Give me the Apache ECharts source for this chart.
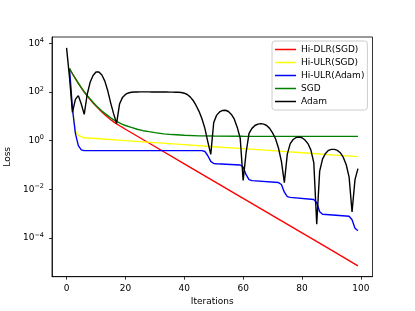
<!DOCTYPE html>
<html>
<head>
<meta charset="utf-8">
<script src="https://cdn.jsdelivr.net/npm/echarts@6/dist/echarts.min.js"></script>
<style>
  html, body { margin: 0; padding: 0; background: #fff; }
  #chart { width: 415px; height: 311px; }
</style>
</head>
<body>
<div id="chart"></div>
<script>
// loss values, [iteration, loss]
const hiDlrSgd = [
  [1, 912], [2, 562], [3, 355], [4, 224], [5, 148], [6, 100], [7, 69], [8, 49], [9, 35.5], [10, 26.3],
  [11, 20], [12, 15.1], [13, 11.7], [14, 9.1], [15, 7.2], [16, 5.9], [17, 4.9], [18, 4.1], [19, 3.5], [20, 2.95],
  [30, 0.575], [40, 0.112], [50, 0.0219], [60, 0.00427], [70, 8.3e-4], [80, 1.62e-4], [90, 3.16e-5], [99, 7.2e-6]
];
const hiUlrSgd = [
  [1, 912], [2, 22], [3, 2.4], [4, 1.66], [5, 1.45], [6, 1.32], [10, 1.23], [20, 1.0], [30, 0.83],
  [40, 0.69], [50, 0.56], [60, 0.47], [70, 0.39], [80, 0.32], [90, 0.26], [99, 0.22]
];
const hiUlrAdam = [
  [1, 912], [2, 20], [3, 2.0], [4, 0.63], [5, 0.42], [6, 0.39], [20, 0.39], [40, 0.39], [46, 0.39],
  [47, 0.36], [48, 0.24], [49, 0.141], [50, 0.115], [51, 0.112], [59, 0.1], [60, 0.083], [61, 0.04],
  [62, 0.025], [63, 0.0229], [72, 0.019], [73, 0.0158], [74, 0.0076], [75, 0.005], [76, 0.00468],
  [84, 0.0038], [85, 0.0028], [86, 0.0012], [87, 9.5e-4], [96, 7.8e-4], [97, 5.6e-4], [98, 2.5e-4], [99, 2.0e-4]
];
const sgd = [
  [1, 912], [2, 562], [3, 355], [4, 229], [5, 151], [6, 102], [7, 72], [8, 52], [9, 38], [10, 28],
  [11, 21.4], [12, 16.6], [13, 13.2], [14, 10.7], [15, 8.7], [16, 7.2], [17, 6.2], [18, 5.4], [19, 4.7], [20, 4.2],
  [22, 3.5], [24, 2.95], [26, 2.57], [28, 2.34], [30, 2.14], [33, 1.9], [36, 1.78], [40, 1.66], [45, 1.58],
  [50, 1.55], [60, 1.51], [70, 1.5], [80, 1.5], [90, 1.5], [99, 1.5]
];
// Adam, one value per iteration 0..99
const adam = [
  6500, 400, 14.5, 50, 71, 32, 12, 79, 250, 480,
  660, 660, 500, 280, 112, 35, 12.6, 5.1, 32, 60,
  79, 91, 98, 100, 100, 101, 101, 101, 101, 100,
  100, 100, 100, 100, 100, 99, 99, 98, 97, 95,
  89, 79, 63, 45, 28, 16, 7.9, 3.2, 0.89, 0.275,
  5.6, 11.2, 15.1, 17.4, 17.8, 15.8, 12, 7.6, 3.5, 1.26,
  0.0234, 0.32, 2.0, 3.2, 4.2, 4.8, 5.0, 4.8, 4.2, 3.2,
  2.1, 1.2, 0.5, 0.14, 0.019, 0.28, 0.76, 1.12, 1.35, 1.41,
  1.32, 1.07, 0.76, 0.42, 0.126, 3.7e-4, 0.056, 0.178, 0.30, 0.40,
  0.44, 0.44, 0.40, 0.32, 0.21, 0.105, 0.032, 0.00117, 0.025, 0.071
];

const xTicks = [0, 20, 40, 60, 80, 100];
const yTicks = [1e-4, 1e-2, 1, 1e2, 1e4];

const font = 'DejaVu Sans';
const chart = echarts.init(document.getElementById('chart'), null, { renderer: 'canvas' });

function lineSeries(name, color, data) {
  return {
    name: name,
    type: 'line',
    data: data,
    color: color,
    symbol: 'none',
    showSymbol: false,
    lineStyle: { width: 1.4, color: color },
    emphasis: { disabled: true }
  };
}

function supLabel(v) {
  const e = Math.round(Math.log10(v));
  const s = e < 0 ? '\u2212' + (-e) : String(e);
  return '{b|10}{s|' + s + '}';
}

const option = {
  animation: false,
  grid: {
    left: 52, right: 42.5, top: 37, bottom: 34.3,
    show: true, borderColor: '#000', borderWidth: 0.8,
    containLabel: false, outerBoundsMode: 'none'
  },
  legend: {
    orient: 'vertical',
    left: 272, top: 41,
    icon: 'rect',
    itemWidth: 21, itemHeight: 1.5,
    itemGap: 0,
    selectedMode: false,
    padding: [2, 3, 2, 3],
    backgroundColor: 'rgba(255,255,255,0.8)',
    borderColor: '#ccc', borderWidth: 1, borderRadius: 3,
    textStyle: { fontFamily: font, fontSize: 9, color: '#000', lineHeight: 13 },
    data: ['Hi-DLR(SGD)', 'Hi-ULR(SGD)', 'Hi-ULR(Adam)', 'SGD', 'Adam']
  },
  xAxis: {
    type: 'value',
    min: -4.95, max: 103.95,
    name: 'Iterations', nameLocation: 'middle', nameGap: 19,
    nameTextStyle: { fontFamily: font, fontSize: 9, color: '#000' },
    axisLine: { onZero: false, lineStyle: { color: '#000', width: 0.8 } },
    axisTick: { length: 3, lineStyle: { color: '#000', width: 0.8 }, customValues: xTicks },
    axisLabel: { fontFamily: font, fontSize: 9, color: '#000', margin: 7, customValues: xTicks },
    splitLine: { show: false }
  },
  yAxis: {
    type: 'log', logBase: 10,
    min: 2.57e-6, max: 1.82e4,
    name: 'Loss', nameLocation: 'middle', nameGap: 33,
    nameTextStyle: { fontFamily: font, fontSize: 9, color: '#000' },
    axisLine: { show: true, onZero: false, lineStyle: { color: '#000', width: 0.8 } },
    axisTick: { show: true, length: 3, lineStyle: { color: '#000', width: 0.8 }, customValues: yTicks },
    axisLabel: {
      margin: 8, customValues: yTicks,
      formatter: supLabel,
      rich: {
        b: { fontFamily: font, fontSize: 9, color: '#000' },
        s: { fontFamily: font, fontSize: 6.5, color: '#000', padding: [0, 0, 6, 0] }
      }
    },
    splitLine: { show: false },
    minorTick: { show: false }
  },
  series: [
    lineSeries('Hi-DLR(SGD)', '#ff0000', hiDlrSgd),
    lineSeries('Hi-ULR(SGD)', '#ffff00', hiUlrSgd),
    lineSeries('Hi-ULR(Adam)', '#0000ff', hiUlrAdam),
    lineSeries('SGD', '#008000', sgd),
    lineSeries('Adam', '#000000', adam.map((v, i) => [i, v]))
  ]
};
chart.setOption(option);
</script>
</body>
</html>
